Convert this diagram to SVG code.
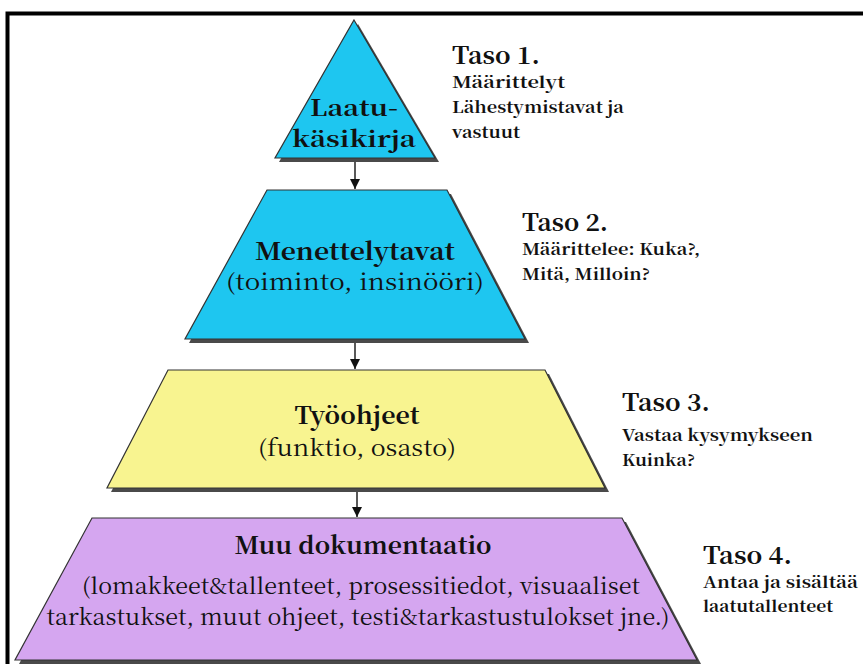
<svg xmlns="http://www.w3.org/2000/svg" width="863" height="664" viewBox="0 0 863 664">
<style>
.shadow{fill:#4a4a4a}
.shape{stroke:#333;stroke-width:1.2}
.cyan{fill:#1ec6f0}
.yellow{fill:#f8f490}
.purple{fill:#d5a6f0}
text{font-family:'Noto Serif CJK SC','Liberation Serif',serif;fill:#111}
.big{font-weight:bold;font-size:24px}
.tri{font-weight:bold;font-size:22px}
.sub{font-size:22px}
.taso{font-weight:bold;font-size:24px}
.note{font-weight:bold;font-size:15.5px}
.conn{stroke:#222;stroke-width:1.5;fill:none}
</style>
<defs>
<marker id="arr" viewBox="0 0 10 10" refX="10" refY="5" markerWidth="10" markerHeight="10" markerUnits="userSpaceOnUse" orient="auto">
<path d="M0,0 L10,5 L0,10 Z" fill="#111"/>
</marker>
</defs>
<rect x="0" y="0" width="863" height="664" fill="#fff"/>
<rect x="7.5" y="13.5" width="900" height="700" fill="none" stroke="#000" stroke-width="4"/>

<g id="connectors">
<line class="conn" x1="355" y1="159" x2="355" y2="189" marker-end="url(#arr)"/>
<line class="conn" x1="355" y1="340" x2="355" y2="369" marker-end="url(#arr)"/>
<line class="conn" x1="357" y1="489" x2="357" y2="517" marker-end="url(#arr)"/>
</g>

<g id="level1">
<polygon class="shadow" points="358,24 439,162 279,162"/>
<polygon class="shape cyan" points="354,20 435,158 275,158"/>
<text class="tri" x="354" y="116" text-anchor="middle" textLength="88" lengthAdjust="spacingAndGlyphs">Laatu-</text>
<text class="tri" x="354" y="147" text-anchor="middle" textLength="124" lengthAdjust="spacingAndGlyphs">käsikirja</text>
</g>

<g id="level2">
<polygon class="shadow" points="271,194 451,194 529,343 189,343"/>
<polygon class="shape cyan" points="267,190 447,190 525,339 185,339"/>
<text class="big" x="355" y="260" text-anchor="middle" textLength="200" lengthAdjust="spacingAndGlyphs">Menettelytavat</text>
<text class="sub" x="355" y="290" text-anchor="middle" textLength="258" lengthAdjust="spacingAndGlyphs">(toiminto, insinööri)</text>
</g>

<g id="level3">
<polygon class="shadow" points="172,374 549,374 609,492 111,492"/>
<polygon class="shape yellow" points="168,370 545,370 605,488 107,488"/>
<text class="big" x="357" y="424" text-anchor="middle" textLength="125" lengthAdjust="spacingAndGlyphs">Työohjeet</text>
<text class="sub" x="357" y="456" text-anchor="middle" textLength="198" lengthAdjust="spacingAndGlyphs">(funktio, osasto)</text>
</g>

<g id="level4">
<polygon class="shadow" points="96,522 626,522 701,664 19,664"/>
<polygon class="shape purple" points="92,518 622,518 697,660 15,660"/>
<text class="big" x="363" y="554" text-anchor="middle" textLength="257" lengthAdjust="spacingAndGlyphs">Muu dokumentaatio</text>
<text class="sub" x="361" y="594" text-anchor="middle" textLength="558" lengthAdjust="spacingAndGlyphs">(lomakkeet&amp;tallenteet, prosessitiedot, visuaaliset</text>
<text class="sub" x="358" y="625" text-anchor="middle" textLength="623" lengthAdjust="spacingAndGlyphs">tarkastukset, muut ohjeet, testi&amp;tarkastustulokset jne.)</text>
</g>

<g id="taso1">
<text class="taso" x="452" y="64" textLength="88" lengthAdjust="spacingAndGlyphs">Taso 1.</text>
<text class="note" x="452" y="88" textLength="113" lengthAdjust="spacingAndGlyphs">Määrittelyt</text>
<text class="note" x="452" y="113" textLength="172" lengthAdjust="spacingAndGlyphs">Lähestymistavat ja</text>
<text class="note" x="452" y="138" textLength="68" lengthAdjust="spacingAndGlyphs">vastuut</text>
</g>

<g id="taso2">
<text class="taso" x="522" y="231" textLength="86" lengthAdjust="spacingAndGlyphs">Taso 2.</text>
<text class="note" x="522" y="255" textLength="178" lengthAdjust="spacingAndGlyphs">Määrittelee: Kuka?,</text>
<text class="note" x="522" y="280" textLength="128" lengthAdjust="spacingAndGlyphs">Mitä, Milloin?</text>
</g>

<g id="taso3">
<text class="taso" x="622" y="411" textLength="88" lengthAdjust="spacingAndGlyphs">Taso 3.</text>
<text class="note" x="622" y="441" textLength="191" lengthAdjust="spacingAndGlyphs">Vastaa kysymykseen</text>
<text class="note" x="622" y="466" textLength="73" lengthAdjust="spacingAndGlyphs">Kuinka?</text>
</g>

<g id="taso4">
<text class="taso" x="703" y="564" textLength="89" lengthAdjust="spacingAndGlyphs">Taso 4.</text>
<text class="note" x="703" y="588" textLength="155" lengthAdjust="spacingAndGlyphs">Antaa ja sisältää</text>
<text class="note" x="703" y="612" textLength="130" lengthAdjust="spacingAndGlyphs">laatutallenteet</text>
</g>
</svg>
